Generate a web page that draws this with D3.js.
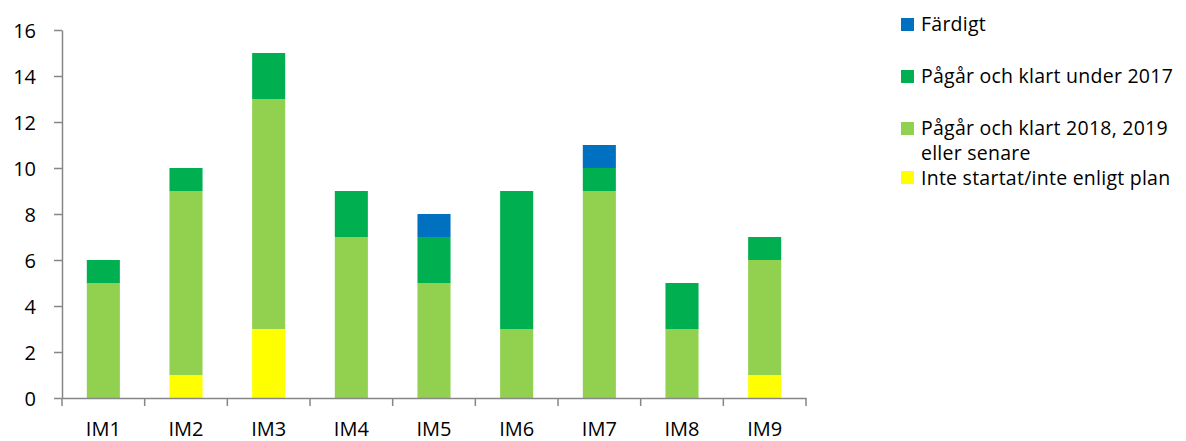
<!DOCTYPE html>
<html><head><meta charset="utf-8">
<script src="https://cdn.jsdelivr.net/npm/d3@7"></script>
<style>body{margin:0;background:#fff}svg{display:block}text{font-family:"Open Sans",sans-serif;fill:#000}</style>
</head><body>
<svg id="c" width="1186" height="441"></svg>
<script>
const categories = ["IM1","IM2","IM3","IM4","IM5","IM6","IM7","IM8","IM9"];
const inteStartat = [0,1,3,0,0,0,0,0,1];
const klart2018 = [5,8,10,7,5,3,9,3,5];
const klart2017 = [1,1,2,2,2,6,1,2,1];
const fardigt = [0,0,0,0,1,0,1,0,0];
const yTicks = [0,2,4,6,8,10,12,14,16];
const seriesNames = ["Inte startat/inte enligt plan","Pågår och klart 2018, 2019 eller senare","Pågår och klart under 2017","Färdigt"];
const seriesColors = ["#FFFF00","#92D050","#00B050","#0070C0"];

const svg = d3.select("#c");
const mLeft = 62, mRight = 806, mTop = 30, mBottom = 398;
const x = d3.scaleBand().domain(categories).range([mLeft, mRight]).paddingInner(0).paddingOuter(0);
const y = d3.scaleLinear().domain([0,16]).range([mBottom, mTop]);

const rows = categories.map((c,i)=>({cat:c, s0:inteStartat[i], s1:klart2018[i], s2:klart2017[i], s3:fardigt[i]}));
const stack = d3.stack().keys(["s0","s1","s2","s3"])(rows);
const bw = x.bandwidth()*0.4;
svg.append("g").selectAll("g").data(stack).join("g")
  .attr("fill",(d,i)=>seriesColors[i])
  .selectAll("rect").data(d=>d).join("rect")
  .attr("x",d=>x(d.data.cat)+(x.bandwidth()-bw)/2)
  .attr("width",bw)
  .attr("y",d=>y(d[1]))
  .attr("height",d=>y(d[0])-y(d[1]));

// y axis
const ya = svg.append("g").attr("transform",`translate(${mLeft},0)`)
  .call(d3.axisLeft(y).tickValues(yTicks).tickSize(8).tickPadding(18).tickSizeOuter(0));
ya.select(".domain").attr("stroke","#868686").attr("stroke-width",1.5);
ya.selectAll(".tick line").attr("stroke","#868686").attr("stroke-width",1.5);
ya.selectAll(".tick text").style("font-size","20px").attr("dy","0.36em");

// x axis
const xa = svg.append("g").attr("transform",`translate(0,${mBottom})`)
  .call(d3.axisBottom(x).tickSize(0).tickPadding(0));
xa.select(".domain").attr("stroke","#868686").attr("stroke-width",1.5);
xa.selectAll(".tick text").style("font-size","20px").attr("dy",null).attr("y",38);
const bounds = categories.map(c=>x(c)).concat([x(categories[categories.length-1])+x.bandwidth()]);
xa.selectAll("line.sep").data(bounds).join("line").attr("class","sep")
  .attr("x1",d=>d).attr("x2",d=>d).attr("y1",0).attr("y2",8)
  .attr("stroke","#868686").attr("stroke-width",1.5);

// legend
const legend = [
  {i:3, sy:18, lines:["Färdigt"], ty:[31]},
  {i:2, sy:70, lines:["Pågår och klart under 2017"], ty:[83]},
  {i:1, sy:122, lines:["Pågår och klart 2018, 2019","eller senare"], ty:[135,160]},
  {i:0, sy:171, lines:["Inte startat/inte enligt plan"], ty:[185]}
];
const lg = svg.append("g");
legend.forEach(l=>{
  lg.append("rect").attr("x",901).attr("y",l.sy).attr("width",13).attr("height",13).attr("fill",seriesColors[l.i]);
  l.lines.forEach((t,j)=>{
    lg.append("text").attr("x",921).attr("y",l.ty[j]).style("font-size","19.5px").style("letter-spacing","0.25px").text(t);
  });
});
</script>
</body></html>
